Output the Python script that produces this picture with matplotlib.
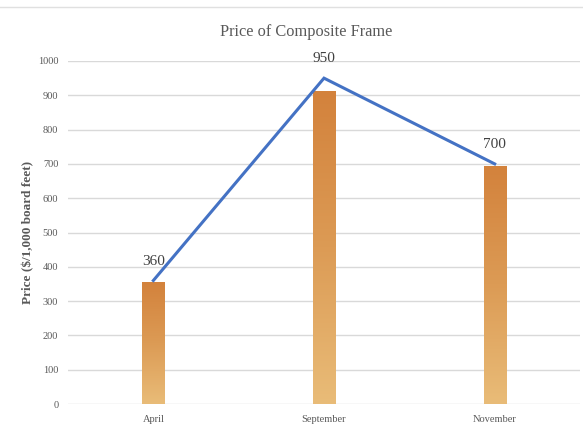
import numpy as np
import matplotlib
matplotlib.use("Agg")
import matplotlib.pyplot as plt
from matplotlib.colors import LinearSegmentedColormap

months = ["April", "September", "November"]
bar_values = [355, 912, 695]
line_values = [360, 950, 700]
yticks = [0, 100, 200, 300, 400, 500, 600, 700, 800, 900, 1000]

plt.rcParams['font.family'] = ['Liberation Serif', 'DejaVu Serif']
txt = '#595959'

fig = plt.figure(figsize=(5.83, 4.29), dpi=100)
ax = fig.add_axes([68/583, 25/429, 512/583, 343/429])

x = np.arange(len(months))
bars = ax.bar(x, bar_values, width=0.13, color='none', edgecolor='none', zorder=2)

cmap = LinearSegmentedColormap.from_list('wood', ['#E9BC78', '#DC9B55', '#D3823C'])
grad = np.linspace(0, 1, 256).reshape(-1, 1)
for b in bars:
    x0, y0, w, h = b.get_x(), b.get_y(), b.get_width(), b.get_height()
    im = ax.imshow(grad, extent=(x0, x0 + w, y0, y0 + h), origin='lower',
                   cmap=cmap, aspect='auto', zorder=2, interpolation='bilinear')
    im.set_clip_path(b)

ax.plot(x, line_values, color='#4472C4', lw=2.2, zorder=3, solid_joinstyle='miter')
for xi, v in zip(x, line_values):
    ax.annotate(str(v), (xi, v), xytext=(0, 14), textcoords='offset points',
                ha='center', va='center', fontsize=11, color='#404040', zorder=4)

ax.set_xlim(-0.5, 2.5)
ax.set_ylim(0, 1000)
ax.set_yticks(yticks)
ax.set_xticks(x)
ax.set_xticklabels(months)
ax.tick_params(axis='both', length=0, labelsize=7.5, colors=txt)
ax.tick_params(axis='y', pad=7)
ax.tick_params(axis='x', pad=8)
ax.grid(axis='y', color='#D9D9D9', lw=1.0, zorder=0)
ax.set_axisbelow(True)
for s in ax.spines.values():
    s.set_visible(False)

ax.set_ylabel("Price ($/1,000 board feet)", fontsize=9.5, color=txt, fontweight='bold')
ax.yaxis.set_label_coords(-0.066, 0.5)
fig.text(306/583, 1 - 32/429, "Price of Composite Frame", ha='center', va='center',
         fontsize=11.8, color=txt)
fig.add_artist(plt.Line2D([0, 1], [1 - 7/429, 1 - 7/429], color='#E0E0E0', lw=1,
                          transform=fig.transFigure))

fig.savefig("out.png", dpi=100)
